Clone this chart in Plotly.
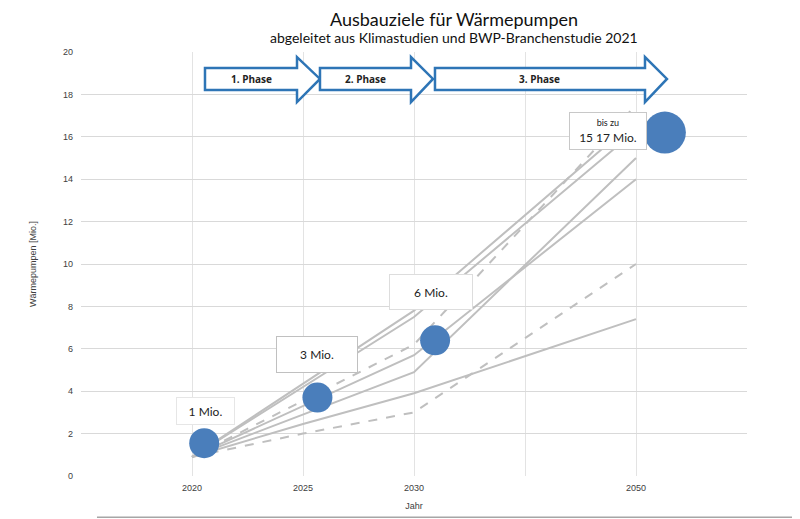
import plotly.graph_objects as go

# ---- data ----
year_pos = [1, 2, 3, 5]
tick_vals = [0, 1, 2, 3, 4, 5, 6]
tick_text = ["", "2020", "2025", "2030", "", "2050", ""]

scen_1 = [0.9, 2.45, 3.9, 7.4]     # solid
scen_2 = [0.9, 2.0, 3.0, 10.0]     # dashed
scen_3 = [0.9, 2.9, 4.9, 15.0]     # solid
scen_4 = [0.9, 3.3, 5.7, 14.0]     # solid
scen_5 = [0.9, 3.55, 6.2, 17.5]    # dashed
scen_6 = [0.9, 4.35, 7.8, 16.8]    # solid
scen_7 = [0.9, 4.2, 7.5, 16.3]     # solid
scenarios = [(scen_1, "solid"), (scen_2, "dash"), (scen_3, "solid"), (scen_4, "solid"),
             (scen_5, "dash"), (scen_6, "solid"), (scen_7, "solid")]

target_x = [1.11, 2.13, 3.19, 5.26]
target_y = [1.55, 3.7, 6.4, 16.2]
target_size = [30, 30, 30, 42]

label_texts = ["1 Mio.", "3 Mio.", "6 Mio.", "<span style='font-size:9px'>bis zu</span><br>15 17 Mio."]
label_x = [1.12, 2.126, 3.15, 4.75]
label_y = [3.07, 5.75, 8.68, 16.27]
label_w = [55, 78, 80, 74]
label_h = [24, 33, 32, 34]
label_border = ["#e6e6e6", "#c0c0c0", "#dddddd", "#c8c8c8"]

phase_names = ["1. Phase", "2. Phase", "3. Phase"]
phase_start = [1.117, 2.153, 3.189]
phase_body_end = [1.946, 2.973, 5.081]
phase_tip = [2.153, 3.171, 5.279]

fig = go.Figure()

for vals, dash in scenarios:
    fig.add_trace(go.Scatter(x=year_pos, y=vals, mode="lines",
                             line=dict(color="#bfbfbf", width=2, dash=dash),
                             hoverinfo="skip", showlegend=False))

fig.add_trace(go.Scatter(x=target_x, y=target_y, mode="markers",
                         marker=dict(color="#4a7ebb", size=target_size, opacity=1, line=dict(width=0)),
                         opacity=1, showlegend=False))

for t, x, y, w, h, bc in zip(label_texts, label_x, label_y, label_w, label_h, label_border):
    fig.add_annotation(x=x, y=y, xref="x", yref="y", text=t, showarrow=False,
                       width=w, height=h, bgcolor="white", bordercolor=bc,
                       borderwidth=1, font=dict(size=12, color="#222222", family="Lato"))

# phase arrows
yb_top, yb_bot, yh_top, yh_bot, y_mid = 19.25, 18.21, 19.76, 17.64, 18.73
for name, x0, x1, x2 in zip(phase_names, phase_start, phase_body_end, phase_tip):
    path = (f"M {x0},{yb_top} L {x1},{yb_top} L {x1},{yh_top} L {x2},{y_mid} "
            f"L {x1},{yh_bot} L {x1},{yb_bot} L {x0},{yb_bot} Z")
    fig.add_shape(type="path", path=path, xref="x", yref="y",
                  line=dict(color="#2e75b6", width=2.5), fillcolor="white", layer="above")
    fig.add_annotation(x=(x0 + x1) / 2, y=y_mid, xref="x", yref="y", text=f"<b>{name}</b>",
                       showarrow=False, font=dict(size=10, color="#222222", family="Open Sans"))

# title and subtitle
fig.add_annotation(xref="paper", yref="paper", x=0.56, y=1.077, text="Ausbauziele für Wärmepumpen",
                   showarrow=False, xanchor="center", yanchor="middle",
                   font=dict(size=18, color="#111111", family="Lato"))
fig.add_annotation(xref="paper", yref="paper", x=0.56, y=1.034,
                   text="abgeleitet aus Klimastudien und BWP-Branchenstudie 2021",
                   showarrow=False, xanchor="center", yanchor="middle",
                   font=dict(size=14, color="#111111", family="Lato"))

fig.add_shape(type="line", xref="paper", yref="paper", x0=0.024, x1=1.09, y0=-0.097, y1=-0.097,
              line=dict(color="#a6a6a6", width=1.5))

fig.update_layout(
    width=800, height=519,
    margin=dict(l=73, r=61, t=44, b=51, autoexpand=False),
    paper_bgcolor="white", plot_bgcolor="white",
    xaxis=dict(range=[0, 6], tickmode="array", tickvals=tick_vals, ticktext=tick_text,
               showgrid=True, gridcolor="#e3e3e3", gridwidth=1, zeroline=False, automargin=False,
               showline=False, ticks="", ticklabelstandoff=5,
               tickfont=dict(size=9, color="#404040", family="Liberation Sans"),
               title=dict(text="Jahr", font=dict(size=9, color="#404040", family="Liberation Sans"), standoff=10)),
    yaxis=dict(range=[0, 20], dtick=2, showgrid=True, gridcolor="#d9d9d9", gridwidth=1,
               zeroline=False, showline=False, ticks="", ticklabelstandoff=7, automargin=False,
               tickfont=dict(size=9, color="#404040", family="Liberation Sans"),
               title=dict(text="Wärmepumpen [Mio.]", font=dict(size=9, color="#404040", family="Liberation Sans"),
                          standoff=24)),
    showlegend=False,
)

fig.write_html("out.html")
